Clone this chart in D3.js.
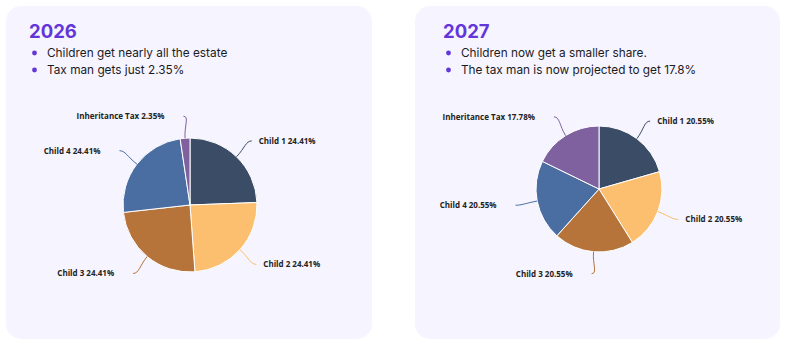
<!DOCTYPE html>
<html>
<head>
<meta charset="utf-8">
<script src="https://cdn.jsdelivr.net/npm/d3@7"></script>
<style>
  html, body { margin: 0; padding: 0; background: #fff; }
  svg { display: block; }
</style>
</head>
<body>
<svg id="chart" width="800" height="347"></svg>
<script>
// ===== Data =====
const years = ["2026", "2027"];
const bullets2026 = ["Children get nearly all the estate", "Tax man gets just 2.35%"];
const bullets2027 = ["Children now get a smaller share.", "The tax man is now projected to get 17.8%"];
const categories = ["Child 1", "Child 2", "Child 3", "Child 4", "Inheritance Tax"];
const shares2026 = [24.41, 24.41, 24.41, 24.41, 2.35];
const shares2027 = [20.55, 20.55, 20.55, 20.55, 17.78];
const sliceColors = ["#3b4c66", "#fbbf6f", "#b6733a", "#4a6ea1", "#7f61a0"];

// ===== Layout =====
const panels = [
  { year: years[0], bullets: bullets2026, values: shares2026, x: 6,   w: 366, pad: 23, cx: 184, cy: 205, r: 67 },
  { year: years[1], bullets: bullets2027, values: shares2027, x: 415, w: 365, pad: 28, cx: 184, cy: 189, r: 63 }
];
const cardY = 6, cardH = 333;
const cTitle = "#6236d9", cText = "#1b1b1f", cCard = "#f6f4fe";

const svg = d3.select("#chart");
const color = d3.scaleOrdinal().domain(categories).range(sliceColors);
const pie = d3.pie().sort(null).value(d => d.value);

panels.forEach(p => {
  const g = svg.append("g").attr("transform", `translate(${p.x},${cardY})`);

  // card
  g.append("rect").attr("width", p.w).attr("height", cardH)
    .attr("rx", 15).attr("ry", 15).attr("fill", cCard);

  // title
  g.append("text").attr("x", p.pad).attr("y", 32)
    .attr("font-family", "Inter, sans-serif").attr("font-weight", 700)
    .attr("font-size", 18.5).attr("fill", cTitle).text(p.year);

  // bullets
  p.bullets.forEach((b, i) => {
    const by = 51 + i * 17;
    g.append("circle").attr("cx", p.pad + 5.5).attr("cy", by - 4).attr("r", 2.4).attr("fill", cTitle);
    g.append("text").attr("x", p.pad + 18).attr("y", by)
      .attr("font-family", "Inter, sans-serif").attr("font-size", 11.8)
      .attr("fill", cText).text(b);
  });

  // pie
  const rows = categories.map((c, i) => ({ name: c, value: p.values[i] }));
  const arcs = pie(rows);
  const arc = d3.arc().innerRadius(0).outerRadius(p.r);
  const pg = g.append("g").attr("transform", `translate(${p.cx},${p.cy - cardY})`);

  pg.selectAll("path.slice").data(arcs).join("path")
    .attr("class", "slice")
    .attr("d", arc)
    .attr("fill", d => color(d.data.name))
    .attr("stroke", "#fff").attr("stroke-width", 1);

  // connectors + labels
  const at = (a, rad) => [Math.sin(a) * rad, -Math.cos(a) * rad];
  arcs.forEach(d => {
    const mid = (d.startAngle + d.endAngle) / 2;
    const side = Math.sin(mid) >= 0 ? 1 : -1;
    const s = at(mid, p.r);
    const c1 = at(mid, p.r + 12);
    const e = at(mid, p.r + 22);
    const c2 = [e[0] - side * 6, e[1]];
    pg.append("path")
      .attr("d", `M${s[0]},${s[1]} C${c1[0]},${c1[1]} ${c2[0]},${c2[1]} ${e[0]},${e[1]}`)
      .attr("fill", "none").attr("stroke", color(d.data.name)).attr("stroke-width", 1);
    pg.append("text")
      .attr("x", side > 0 ? e[0] + 7 : e[0] - 19)
      .attr("y", e[1] + 3)
      .attr("text-anchor", side > 0 ? "start" : "end")
      .attr("font-family", "'Open Sans', sans-serif").attr("font-weight", 700)
      .attr("font-size", 8).attr("fill", "#222")
      .text(`${d.data.name} ${d.data.value}%`);
  });
});
</script>
</body>
</html>
